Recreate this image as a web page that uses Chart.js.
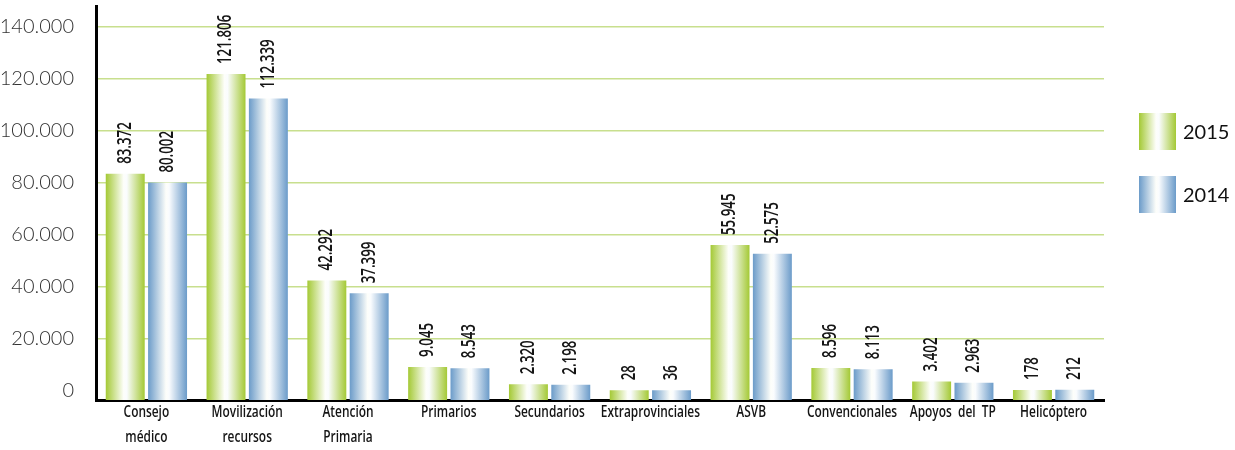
<!DOCTYPE html>
<html>
<head>
<meta charset="utf-8">
<script src="https://cdn.jsdelivr.net/npm/chart.js@4.4.1/dist/chart.umd.min.js"></script>
<style>
  html, body { margin: 0; padding: 0; background: #fff; }
  #wrap { width: 1235px; height: 450px; position: relative; }
</style>
</head>
<body>
<div id="wrap"><canvas id="grafico"></canvas></div>
<script>
// datos
let categorias = [['Consejo', 'médico'], ['Movilización', 'recursos'], ['Atención', 'Primaria'], 'Primarios', 'Secundarios',
    'Extraprovinciales', 'ASVB', 'Convencionales', 'Apoyos  del  TP', 'Helicóptero'];
let valores_2015 = [83372, 121806, 42292, 9045, 2320, 28, 55945, 8596, 3402, 178];
let valores_2014 = [80002, 112339, 37399, 8543, 2198, 36, 52575, 8113, 2963, 212];
let ticks_y = [0, 20000, 40000, 60000, 80000, 100000, 120000, 140000];

let verde = '#a4c935';
let azul = '#6b9bc9';
let fuente_cond = '"Open Sans", sans-serif';
let fuente_normal = 'Lato, "Open Sans", sans-serif';
let eje_min = -3700;
let estrechar = 0.7; // la fuente original es condensada

let formatear = (n) => String(n).replace(/\B(?=(\d{3})+(?!\d))/g, '.');

let degradado = (ctx, x0, x1, color) => {
    let g = ctx.createLinearGradient(x0, 0, x1, 0);
    g.addColorStop(0, color);
    g.addColorStop(0.46, '#fdfefa');
    g.addColorStop(0.54, '#fafcfe');
    g.addColorStop(1, color);
    return g;
};

// relleno con degradado horizontal en cada barra + etiquetas
let barrasPlugin = {
    id: 'barras',
    beforeDatasetsDraw(chart) {
        let ctx = chart.ctx;
        chart.data.datasets.forEach((ds, i) => {
            chart.getDatasetMeta(i).data.forEach(bar => {
                // copia propia para no tocar las opciones compartidas
                bar.options = Object.assign({}, bar.options, {
                    backgroundColor: degradado(ctx, bar.x - bar.width / 2, bar.x + bar.width / 2, ds.colorBase)
                });
            });
        });
    },
    afterDatasetsDraw(chart) {
        let ctx = chart.ctx;
        ctx.save();
        ctx.fillStyle = '#151515';
        ctx.font = '600 19px ' + fuente_cond;
        ctx.textAlign = 'left';
        ctx.textBaseline = 'middle';
        chart.data.datasets.forEach((ds, i) => {
            chart.getDatasetMeta(i).data.forEach((bar, j) => {
                ctx.save();
                ctx.translate(bar.x, bar.y - 10);
                ctx.rotate(-Math.PI / 2);
                ctx.scale(estrechar, 1);
                ctx.fillText(formatear(ds.data[j]), 0, 0);
                ctx.restore();
            });
        });
        ctx.restore();
    },
    afterDraw(chart) {
        let ctx = chart.ctx;
        let x_scale = chart.scales.x;
        ctx.save();
        // etiquetas de categoria
        ctx.fillStyle = '#151515';
        ctx.font = '600 17px ' + fuente_cond;
        ctx.textAlign = 'center';
        ctx.textBaseline = 'top';
        categorias.forEach((cat, i) => {
            let lineas = Array.isArray(cat) ? cat : [cat];
            let x = x_scale.getPixelForValue(i);
            lineas.forEach((txt, k) => {
                ctx.save();
                ctx.translate(x, x_scale.top + 4 + k * 25);
                ctx.scale(estrechar, 1);
                ctx.fillText(txt, 0, 0);
                ctx.restore();
            });
        });
        // leyenda a la derecha
        chart.data.datasets.forEach((ds, i) => {
            let x = 1139, y = 113 + i * 63;
            ctx.fillStyle = degradado(ctx, x, x + 37, ds.colorBase);
            ctx.fillRect(x, y, 37, 37);
            ctx.fillStyle = '#111';
            ctx.font = '20px ' + fuente_normal;
            ctx.textAlign = 'left';
            ctx.textBaseline = 'middle';
            ctx.fillText(ds.label, x + 44, y + 20);
        });
        ctx.restore();
    }
};

new Chart(document.getElementById('grafico'), {
    type: 'bar',
    data: {
        labels: categorias,
        datasets: [
            { label: '2015', data: valores_2015, colorBase: verde, backgroundColor: verde, base: eje_min },
            { label: '2014', data: valores_2014, colorBase: azul, backgroundColor: azul, base: eje_min }
        ]
    },
    options: {
        responsive: true,
        maintainAspectRatio: false,
        animation: false,
        devicePixelRatio: 1,
        layout: { padding: { left: 0, right: 131, top: 6, bottom: 0 } },
        datasets: { bar: { categoryPercentage: 0.84, barPercentage: 0.92 } },
        plugins: { legend: { display: false }, tooltip: { enabled: false } },
        scales: {
            x: {
                grid: { display: false, drawTicks: false },
                border: { color: '#000', width: 3 },
                ticks: { display: false },
                afterFit: (axis) => { axis.height = 50; axis.paddingLeft = 0; axis.paddingRight = 0; }
            },
            y: {
                min: eje_min,
                max: 148000,
                afterBuildTicks: (axis) => { axis.ticks = ticks_y.map(v => ({ value: v })); },
                grid: {
                    drawTicks: false,
                    color: (c) => c.tick && c.tick.value === 0 ? 'rgba(0,0,0,0)' : '#c8df8e',
                    lineWidth: 1.5
                },
                border: { color: '#000', width: 3 },
                ticks: {
                    color: '#333',
                    padding: 22,
                    font: { family: fuente_normal, size: 20, weight: '300' },
                    callback: (v) => formatear(v)
                },
                afterFit: (axis) => { axis.width = 96; axis.paddingTop = 0; axis.paddingBottom = 0; }
            }
        }
    },
    plugins: [barrasPlugin]
});
</script>
</body>
</html>
